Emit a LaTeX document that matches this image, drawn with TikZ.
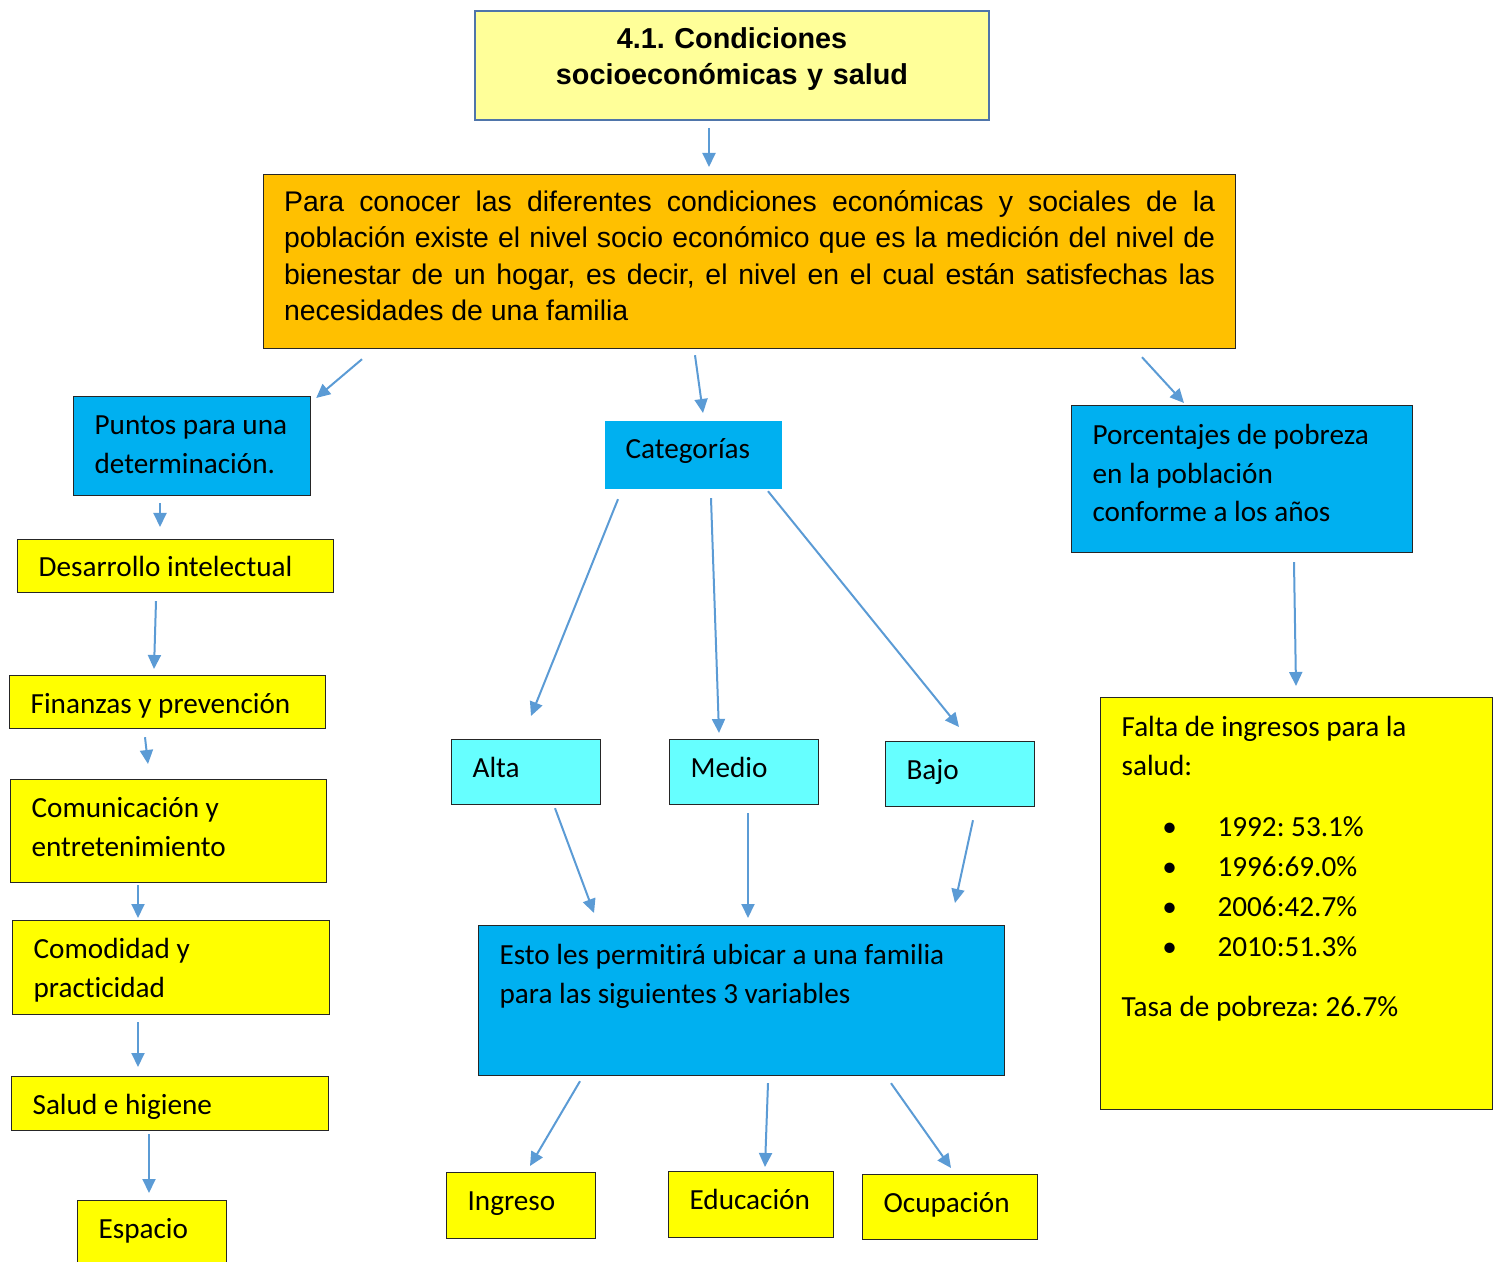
\documentclass[tikz,border=0pt]{standalone}
\usepackage{fontspec}
\setmainfont{Carlito}[Ligatures=NoCommon]
\newfontfamily\arialfont{Liberation Sans}
\usepackage{xcolor}
\usetikzlibrary{positioning, calc, arrows.meta}
\definecolor{titlefill}{HTML}{FFFF99}
\definecolor{titleline}{HTML}{4F75AA}
\definecolor{orangefill}{HTML}{FFC000}
\definecolor{bluefill}{HTML}{00B0F0}
\definecolor{cyanfill}{HTML}{66FFFF}
\definecolor{yellowfill}{HTML}{FFFF00}
\definecolor{arrowblue}{HTML}{5B9BD5}
\tikzset{
  box/.style={draw=black!85, line width=0.6pt, anchor=north west, align=justify,
    inner xsep=10.5pt, inner ysep=0pt, text height=19pt,
    font=\fontsize{14.6}{19.3}\selectfont},
  yellowbox/.style={box, fill=yellowfill},
  bluebox/.style={box, fill=bluefill},
  cyanbox/.style={box, fill=cyanfill},
  arr/.style={draw=arrowblue, line width=1pt, -{Triangle[length=7pt,width=6.5pt]}}
}
\frenchspacing

\begin{document}
\begin{tikzpicture}[x=0.5pt, y=-0.5pt]
        \useasboundingbox (0,0) rectangle (1501,1262);
        % top
        \node[box, fill=titlefill, draw=titleline, line width=1pt, align=center, text width=236pt,
          text height=19pt, text depth=35.5pt, font=\arialfont\bfseries\fontsize{14.4}{17.8}\selectfont]
          (Titulo) at (474,10) {4.1. Condiciones\\socioeconómicas y salud};
        \node[box, fill=orangefill, inner xsep=10.25pt, text width=465.5pt,
          text height=18.5pt, text depth=68.5pt, font=\arialfont\fontsize{14.2}{18.15}\selectfont]
          (Nivel) at (263,174) {Para conocer las diferentes condiciones económicas y sociales de la\linebreak
          población existe el nivel socio económico que es la medición del nivel de\linebreak
          bienestar de un hogar, es decir, el nivel en el cual están satisfechas las\linebreak
          necesidades de una familia};
        % second row
        \node[bluebox, text width=97.5pt, text depth=30.5pt] (Puntos) at (73,396) {Puntos para una\\determinación.};
        \node[bluebox, draw=none, text width=67.5pt, text depth=15pt] (Categorias) at (604,420) {Categorías};
        \node[bluebox, text width=149.5pt, text depth=54pt, text height=19.5pt] (Porcentajes) at (1071,405)
          {Porcentajes de pobreza\\en la población\\conforme a los años};
        % left column
        \node[yellowbox, text width=137pt, text depth=8pt, text height=18.5pt] (Desarrollo) at (17,539) {Desarrollo intelectual};
        \node[yellowbox, text width=137pt, text depth=7.5pt] (Finanzas) at (9,675) {Finanzas y prevención};
        \node[yellowbox, text width=137pt, text depth=32.5pt] (Comunicacion) at (10,779) {Comunicación y\\entretenimiento};
        \node[yellowbox, text width=137.5pt, text depth=28pt] (Comodidad) at (12,920) {Comodidad y\\practicidad};
        \node[yellowbox, text width=137.5pt, text depth=8pt] (Salud) at (11,1076) {Salud e higiene};
        \node[yellowbox, text width=53.5pt, text depth=14pt] (Espacio) at (77,1200) {Espacio};
        % categories
        \node[cyanbox, text width=53.5pt, text depth=13.5pt] (Alta) at (451,739) {Alta};
        \node[cyanbox, text width=53.5pt, text depth=13.5pt] (Medio) at (669,739) {Medio};
        \node[cyanbox, text width=53.5pt, text depth=13.5pt] (Bajo) at (885,741) {Bajo};
        \node[bluebox, text width=242pt, text height=19.5pt, text depth=55.5pt] (Esto) at (478,925)
          {Esto les permitirá ubicar a una familia\\para las siguientes 3 variables};
        \node[yellowbox, text width=53.5pt, text depth=14pt] (Ingreso) at (446,1172) {Ingreso};
        \node[yellowbox, text width=61.5pt, text depth=14pt] (Educacion) at (668,1171) {Educación};
        \node[yellowbox, text width=66.5pt, text depth=13.5pt] (Ocupacion) at (862,1174) {Ocupación};
        % right
        \node[yellowbox, text width=175pt, text height=19.5pt, text depth=186.5pt] (Falta) at (1100,697)
          {Falta de ingresos para la\\salud:\\[11.5pt]
          \hspace*{20pt}\makebox[8pt]{\textbullet}\hspace*{20pt}1992: 53.1\%\\[0.7pt]
          \hspace*{20pt}\makebox[8pt]{\textbullet}\hspace*{20pt}1996:69.0\%\\[0.7pt]
          \hspace*{20pt}\makebox[8pt]{\textbullet}\hspace*{20pt}2006:42.7\%\\[0.7pt]
          \hspace*{20pt}\makebox[8pt]{\textbullet}\hspace*{20pt}2010:51.3\%\\[10.5pt]
          Tasa de pobreza: 26.7\%};
        % arrows
        \draw[arr] ($(Titulo.south west)+(235,7)$) -- ($(Nivel.north west)+(446,-7)$);
        \draw[arr] ($(Nivel.south west)+(99,10)$) -- ($(Puntos.north east)+(5,2)$);
        \draw[arr] ($(Nivel.south west)+(432,6)$) -- ($(Categorias.north west)+(99,-7)$);
        \draw[arr] ($(Nivel.south west)+(879,8)$) -- ($(Porcentajes.north west)+(113,-2)$);
        \draw[arr] ($(Puntos.south west)+(87,7)$) -- ($(Desarrollo.north west)+(143,-12)$);
        \draw[arr] ($(Desarrollo.south west)+(139,8)$) -- ($(Finanzas.north west)+(145,-6)$);
        \draw[arr] ($(Finanzas.south west)+(136,8)$) -- ($(Comunicacion.north west)+(138,-15)$);
        \draw[arr] ($(Comunicacion.south west)+(128,2)$) -- ($(Comodidad.north west)+(126,-2)$);
        \draw[arr] ($(Comodidad.south west)+(126,7)$) -- ($(Salud.north west)+(127,-9)$);
        \draw[arr] ($(Salud.south west)+(138,3)$) -- ($(Espacio.north west)+(72,-7)$);
        \draw[arr] ($(Categorias.south west)+(14,10)$) -- ($(Alta.north west)+(80,-23)$);
        \draw[arr] ($(Categorias.south west)+(107,9)$) -- ($(Medio.north west)+(50,-6)$);
        \draw[arr] ($(Categorias.south west)+(164,2)$) -- ($(Bajo.north west)+(74,-14)$);
        \draw[arr] ($(Porcentajes.south west)+(223,9)$) -- ($(Falta.north west)+(196,-11)$);
        \draw[arr] ($(Alta.south west)+(104,3)$) -- ($(Esto.north west)+(116,-12)$);
        \draw[arr] ($(Medio.south west)+(79,8)$) -- ($(Esto.north west)+(270,-7)$);
        \draw[arr] ($(Bajo.south west)+(88,13)$) -- ($(Esto.north west)+(477,-22)$);
        \draw[arr] ($(Esto.south west)+(102,5)$) -- ($(Ingreso.north west)+(84,-6)$);
        \draw[arr] ($(Esto.south west)+(290,7)$) -- ($(Educacion.north west)+(97,-4)$);
        \draw[arr] ($(Esto.south west)+(413,7)$) -- ($(Ocupacion.north west)+(89,-6)$);
    \end{tikzpicture}
\end{document}
